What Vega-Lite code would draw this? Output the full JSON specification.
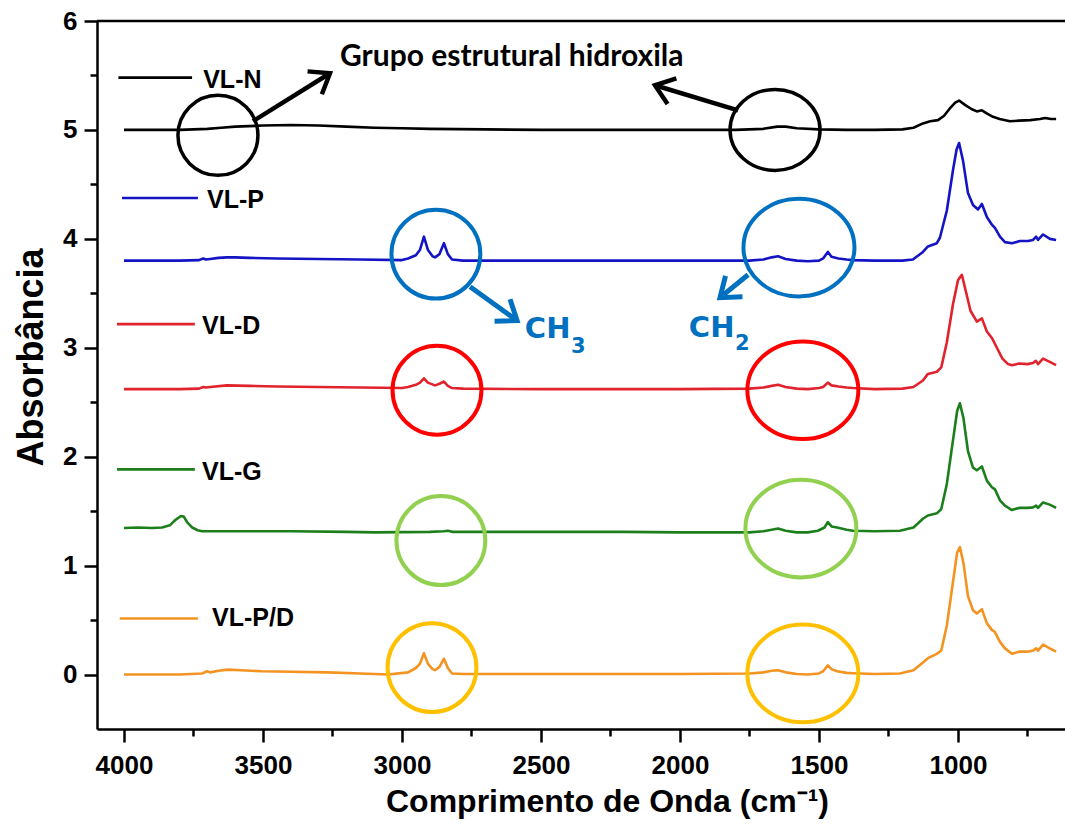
{
"$schema": "https://vega.github.io/schema/vega-lite/v6.json",
"width": 968, "height": 708,
"autosize": {"type": "none"},
"padding": {"left": 97, "top": 21, "right": 0, "bottom": 100},
"background": "white",
"config": {"view": {"stroke": null}, "axis": {"grid": false}},
"datasets": {
"spectra": [
{"s":"VL-N","wn":4000,"a":5.0},{"s":"VL-N","wn":3900,"a":5.0},{"s":"VL-N","wn":3800,"a":5.0},{"s":"VL-N","wn":3750,"a":5.005},{"s":"VL-N","wn":3700,"a":5.01},{"s":"VL-N","wn":3650,"a":5.02},{"s":"VL-N","wn":3600,"a":5.03},{"s":"VL-N","wn":3500,"a":5.04},{"s":"VL-N","wn":3400,"a":5.045},{"s":"VL-N","wn":3300,"a":5.04},{"s":"VL-N","wn":3200,"a":5.03},{"s":"VL-N","wn":3100,"a":5.02},{"s":"VL-N","wn":3000,"a":5.015},{"s":"VL-N","wn":2900,"a":5.01},{"s":"VL-N","wn":2700,"a":5.005},{"s":"VL-N","wn":2500,"a":5.0},{"s":"VL-N","wn":2200,"a":5.0},{"s":"VL-N","wn":2000,"a":5.0},{"s":"VL-N","wn":1800,"a":5.0},{"s":"VL-N","wn":1700,"a":5.01},{"s":"VL-N","wn":1650,"a":5.03},{"s":"VL-N","wn":1620,"a":5.03},{"s":"VL-N","wn":1580,"a":5.015},{"s":"VL-N","wn":1500,"a":5.005},{"s":"VL-N","wn":1400,"a":5.0},{"s":"VL-N","wn":1300,"a":5.0},
{"s":"VL-N","wn":1200,"a":5.005},{"s":"VL-N","wn":1160,"a":5.02},{"s":"VL-N","wn":1126,"a":5.06},{"s":"VL-N","wn":1100,"a":5.08},{"s":"VL-N","wn":1072,"a":5.09},{"s":"VL-N","wn":1050,"a":5.13},{"s":"VL-N","wn":1025,"a":5.21},{"s":"VL-N","wn":1010,"a":5.25},{"s":"VL-N","wn":996,"a":5.27},{"s":"VL-N","wn":975,"a":5.23},{"s":"VL-N","wn":950,"a":5.19},{"s":"VL-N","wn":932,"a":5.17},{"s":"VL-N","wn":914,"a":5.18},{"s":"VL-N","wn":895,"a":5.15},{"s":"VL-N","wn":874,"a":5.12},{"s":"VL-N","wn":850,"a":5.1},{"s":"VL-N","wn":813,"a":5.08},{"s":"VL-N","wn":780,"a":5.085},{"s":"VL-N","wn":740,"a":5.09},{"s":"VL-N","wn":705,"a":5.1},{"s":"VL-N","wn":687,"a":5.11},{"s":"VL-N","wn":665,"a":5.1},{"s":"VL-N","wn":647,"a":5.1},

{"s":"VL-P","wn":4000,"a":3.8},{"s":"VL-P","wn":3900,"a":3.8},{"s":"VL-P","wn":3800,"a":3.8},{"s":"VL-P","wn":3730,"a":3.805},{"s":"VL-P","wn":3715,"a":3.82},{"s":"VL-P","wn":3705,"a":3.81},{"s":"VL-P","wn":3690,"a":3.815},{"s":"VL-P","wn":3660,"a":3.825},{"s":"VL-P","wn":3630,"a":3.83},{"s":"VL-P","wn":3600,"a":3.83},{"s":"VL-P","wn":3550,"a":3.825},{"s":"VL-P","wn":3450,"a":3.82},{"s":"VL-P","wn":3300,"a":3.815},{"s":"VL-P","wn":3150,"a":3.81},{"s":"VL-P","wn":3000,"a":3.805},{"s":"VL-P","wn":2978,"a":3.82},{"s":"VL-P","wn":2950,"a":3.85},{"s":"VL-P","wn":2935,"a":3.9},{"s":"VL-P","wn":2921,"a":4.02},{"s":"VL-P","wn":2907,"a":3.9},{"s":"VL-P","wn":2890,"a":3.84},{"s":"VL-P","wn":2881,"a":3.83},{"s":"VL-P","wn":2865,"a":3.86},{"s":"VL-P","wn":2849,"a":3.96},{"s":"VL-P","wn":2835,"a":3.86},{"s":"VL-P","wn":2820,"a":3.81},{"s":"VL-P","wn":2780,"a":3.8},{"s":"VL-P","wn":2500,"a":3.8},{"s":"VL-P","wn":2200,"a":3.8},{"s":"VL-P","wn":1900,"a":3.8},{"s":"VL-P","wn":1750,"a":3.8},{"s":"VL-P","wn":1700,"a":3.81},{"s":"VL-P","wn":1670,"a":3.83},{"s":"VL-P","wn":1647,"a":3.84},{"s":"VL-P","wn":1620,"a":3.815},{"s":"VL-P","wn":1580,"a":3.8},{"s":"VL-P","wn":1540,"a":3.795},{"s":"VL-P","wn":1500,"a":3.8},{"s":"VL-P","wn":1485,"a":3.82},{"s":"VL-P","wn":1468,"a":3.88},{"s":"VL-P","wn":1455,"a":3.835},{"s":"VL-P","wn":1430,"a":3.82},{"s":"VL-P","wn":1400,"a":3.81},{"s":"VL-P","wn":1378,"a":3.805},{"s":"VL-P","wn":1300,"a":3.8},
{"s":"VL-P","wn":1200,"a":3.8},{"s":"VL-P","wn":1162,"a":3.81},{"s":"VL-P","wn":1126,"a":3.88},{"s":"VL-P","wn":1108,"a":3.93},{"s":"VL-P","wn":1076,"a":3.96},{"s":"VL-P","wn":1065,"a":4.01},{"s":"VL-P","wn":1040,"a":4.26},{"s":"VL-P","wn":1018,"a":4.63},{"s":"VL-P","wn":1005,"a":4.82},{"s":"VL-P","wn":996,"a":4.88},{"s":"VL-P","wn":982,"a":4.72},{"s":"VL-P","wn":964,"a":4.42},{"s":"VL-P","wn":946,"a":4.31},{"s":"VL-P","wn":928,"a":4.27},{"s":"VL-P","wn":914,"a":4.32},{"s":"VL-P","wn":896,"a":4.2},{"s":"VL-P","wn":878,"a":4.13},{"s":"VL-P","wn":867,"a":4.1},{"s":"VL-P","wn":849,"a":4.02},{"s":"VL-P","wn":831,"a":3.97},{"s":"VL-P","wn":806,"a":3.96},{"s":"VL-P","wn":777,"a":3.98},{"s":"VL-P","wn":748,"a":3.98},{"s":"VL-P","wn":730,"a":3.99},{"s":"VL-P","wn":719,"a":4.02},{"s":"VL-P","wn":712,"a":3.99},{"s":"VL-P","wn":694,"a":4.04},{"s":"VL-P","wn":669,"a":4.0},{"s":"VL-P","wn":647,"a":3.99},

{"s":"VL-D","wn":4000,"a":2.62},{"s":"VL-D","wn":3800,"a":2.62},{"s":"VL-D","wn":3730,"a":2.625},{"s":"VL-D","wn":3715,"a":2.64},{"s":"VL-D","wn":3705,"a":2.635},{"s":"VL-D","wn":3690,"a":2.64},{"s":"VL-D","wn":3630,"a":2.655},{"s":"VL-D","wn":3550,"a":2.65},{"s":"VL-D","wn":3450,"a":2.645},{"s":"VL-D","wn":3300,"a":2.64},{"s":"VL-D","wn":3150,"a":2.635},{"s":"VL-D","wn":3000,"a":2.63},{"s":"VL-D","wn":2978,"a":2.64},{"s":"VL-D","wn":2950,"a":2.66},{"s":"VL-D","wn":2935,"a":2.68},{"s":"VL-D","wn":2921,"a":2.72},{"s":"VL-D","wn":2907,"a":2.68},{"s":"VL-D","wn":2881,"a":2.655},{"s":"VL-D","wn":2865,"a":2.67},{"s":"VL-D","wn":2849,"a":2.69},{"s":"VL-D","wn":2835,"a":2.65},{"s":"VL-D","wn":2820,"a":2.63},{"s":"VL-D","wn":2780,"a":2.625},{"s":"VL-D","wn":2500,"a":2.62},{"s":"VL-D","wn":2000,"a":2.62},{"s":"VL-D","wn":1750,"a":2.625},{"s":"VL-D","wn":1700,"a":2.635},{"s":"VL-D","wn":1670,"a":2.65},{"s":"VL-D","wn":1647,"a":2.66},{"s":"VL-D","wn":1620,"a":2.64},{"s":"VL-D","wn":1580,"a":2.625},{"s":"VL-D","wn":1540,"a":2.62},{"s":"VL-D","wn":1500,"a":2.63},{"s":"VL-D","wn":1485,"a":2.64},{"s":"VL-D","wn":1468,"a":2.68},{"s":"VL-D","wn":1455,"a":2.655},{"s":"VL-D","wn":1430,"a":2.645},{"s":"VL-D","wn":1400,"a":2.635},{"s":"VL-D","wn":1378,"a":2.63},{"s":"VL-D","wn":1300,"a":2.62},
{"s":"VL-D","wn":1200,"a":2.625},{"s":"VL-D","wn":1160,"a":2.64},{"s":"VL-D","wn":1126,"a":2.7},{"s":"VL-D","wn":1108,"a":2.76},{"s":"VL-D","wn":1076,"a":2.78},{"s":"VL-D","wn":1060,"a":2.82},{"s":"VL-D","wn":1040,"a":3.05},{"s":"VL-D","wn":1018,"a":3.4},{"s":"VL-D","wn":1000,"a":3.62},{"s":"VL-D","wn":986,"a":3.67},{"s":"VL-D","wn":970,"a":3.5},{"s":"VL-D","wn":955,"a":3.34},{"s":"VL-D","wn":932,"a":3.24},{"s":"VL-D","wn":914,"a":3.27},{"s":"VL-D","wn":896,"a":3.15},{"s":"VL-D","wn":878,"a":3.09},{"s":"VL-D","wn":860,"a":3.0},{"s":"VL-D","wn":840,"a":2.9},{"s":"VL-D","wn":820,"a":2.85},{"s":"VL-D","wn":806,"a":2.84},{"s":"VL-D","wn":780,"a":2.855},{"s":"VL-D","wn":750,"a":2.85},{"s":"VL-D","wn":730,"a":2.86},{"s":"VL-D","wn":720,"a":2.88},{"s":"VL-D","wn":712,"a":2.85},{"s":"VL-D","wn":694,"a":2.9},{"s":"VL-D","wn":670,"a":2.87},{"s":"VL-D","wn":647,"a":2.84},

{"s":"VL-G","wn":4000,"a":1.345},{"s":"VL-G","wn":3950,"a":1.35},{"s":"VL-G","wn":3900,"a":1.345},{"s":"VL-G","wn":3863,"a":1.35},{"s":"VL-G","wn":3835,"a":1.37},{"s":"VL-G","wn":3817,"a":1.415},{"s":"VL-G","wn":3795,"a":1.455},{"s":"VL-G","wn":3785,"a":1.45},{"s":"VL-G","wn":3773,"a":1.4},{"s":"VL-G","wn":3755,"a":1.35},{"s":"VL-G","wn":3735,"a":1.325},{"s":"VL-G","wn":3719,"a":1.315},{"s":"VL-G","wn":3600,"a":1.315},{"s":"VL-G","wn":3400,"a":1.315},{"s":"VL-G","wn":3200,"a":1.31},{"s":"VL-G","wn":3097,"a":1.305},{"s":"VL-G","wn":2900,"a":1.31},{"s":"VL-G","wn":2850,"a":1.315},{"s":"VL-G","wn":2835,"a":1.32},{"s":"VL-G","wn":2820,"a":1.31},{"s":"VL-G","wn":2500,"a":1.31},{"s":"VL-G","wn":2200,"a":1.31},{"s":"VL-G","wn":2000,"a":1.305},{"s":"VL-G","wn":1750,"a":1.305},{"s":"VL-G","wn":1700,"a":1.315},{"s":"VL-G","wn":1670,"a":1.33},{"s":"VL-G","wn":1647,"a":1.34},{"s":"VL-G","wn":1620,"a":1.32},{"s":"VL-G","wn":1580,"a":1.305},{"s":"VL-G","wn":1540,"a":1.305},{"s":"VL-G","wn":1504,"a":1.32},{"s":"VL-G","wn":1480,"a":1.35},{"s":"VL-G","wn":1468,"a":1.4},{"s":"VL-G","wn":1455,"a":1.36},{"s":"VL-G","wn":1435,"a":1.35},{"s":"VL-G","wn":1400,"a":1.33},{"s":"VL-G","wn":1378,"a":1.32},{"s":"VL-G","wn":1300,"a":1.315},
{"s":"VL-G","wn":1209,"a":1.32},{"s":"VL-G","wn":1160,"a":1.35},{"s":"VL-G","wn":1126,"a":1.43},{"s":"VL-G","wn":1108,"a":1.46},{"s":"VL-G","wn":1076,"a":1.48},{"s":"VL-G","wn":1060,"a":1.52},{"s":"VL-G","wn":1040,"a":1.75},{"s":"VL-G","wn":1018,"a":2.15},{"s":"VL-G","wn":1003,"a":2.42},{"s":"VL-G","wn":993,"a":2.49},{"s":"VL-G","wn":980,"a":2.35},{"s":"VL-G","wn":964,"a":2.05},{"s":"VL-G","wn":946,"a":1.9},{"s":"VL-G","wn":932,"a":1.875},{"s":"VL-G","wn":914,"a":1.91},{"s":"VL-G","wn":896,"a":1.78},{"s":"VL-G","wn":878,"a":1.72},{"s":"VL-G","wn":867,"a":1.7},{"s":"VL-G","wn":849,"a":1.6},{"s":"VL-G","wn":831,"a":1.55},{"s":"VL-G","wn":806,"a":1.51},{"s":"VL-G","wn":780,"a":1.53},{"s":"VL-G","wn":750,"a":1.53},{"s":"VL-G","wn":730,"a":1.535},{"s":"VL-G","wn":719,"a":1.55},{"s":"VL-G","wn":712,"a":1.53},{"s":"VL-G","wn":694,"a":1.58},{"s":"VL-G","wn":670,"a":1.56},{"s":"VL-G","wn":647,"a":1.53},

{"s":"VL-P/D","wn":4000,"a":0.0},{"s":"VL-P/D","wn":3800,"a":0.0},{"s":"VL-P/D","wn":3719,"a":0.01},{"s":"VL-P/D","wn":3701,"a":0.03},{"s":"VL-P/D","wn":3690,"a":0.02},{"s":"VL-P/D","wn":3660,"a":0.035},{"s":"VL-P/D","wn":3626,"a":0.045},{"s":"VL-P/D","wn":3580,"a":0.04},{"s":"VL-P/D","wn":3504,"a":0.03},{"s":"VL-P/D","wn":3400,"a":0.025},{"s":"VL-P/D","wn":3266,"a":0.02},{"s":"VL-P/D","wn":3150,"a":0.01},{"s":"VL-P/D","wn":3050,"a":0.0},{"s":"VL-P/D","wn":2978,"a":0.02},{"s":"VL-P/D","wn":2950,"a":0.06},{"s":"VL-P/D","wn":2935,"a":0.1},{"s":"VL-P/D","wn":2921,"a":0.195},{"s":"VL-P/D","wn":2907,"a":0.1},{"s":"VL-P/D","wn":2890,"a":0.05},{"s":"VL-P/D","wn":2881,"a":0.04},{"s":"VL-P/D","wn":2865,"a":0.07},{"s":"VL-P/D","wn":2849,"a":0.145},{"s":"VL-P/D","wn":2835,"a":0.06},{"s":"VL-P/D","wn":2820,"a":0.01},{"s":"VL-P/D","wn":2780,"a":0.005},{"s":"VL-P/D","wn":2500,"a":0.005},{"s":"VL-P/D","wn":2000,"a":0.005},{"s":"VL-P/D","wn":1750,"a":0.01},{"s":"VL-P/D","wn":1700,"a":0.02},{"s":"VL-P/D","wn":1670,"a":0.035},{"s":"VL-P/D","wn":1647,"a":0.04},{"s":"VL-P/D","wn":1620,"a":0.02},{"s":"VL-P/D","wn":1580,"a":0.005},{"s":"VL-P/D","wn":1540,"a":0.0},{"s":"VL-P/D","wn":1500,"a":0.01},{"s":"VL-P/D","wn":1485,"a":0.03},{"s":"VL-P/D","wn":1468,"a":0.085},{"s":"VL-P/D","wn":1455,"a":0.05},{"s":"VL-P/D","wn":1435,"a":0.03},{"s":"VL-P/D","wn":1400,"a":0.015},{"s":"VL-P/D","wn":1378,"a":0.012},{"s":"VL-P/D","wn":1300,"a":0.005},
{"s":"VL-P/D","wn":1209,"a":0.01},{"s":"VL-P/D","wn":1160,"a":0.04},{"s":"VL-P/D","wn":1126,"a":0.11},{"s":"VL-P/D","wn":1108,"a":0.15},{"s":"VL-P/D","wn":1076,"a":0.19},{"s":"VL-P/D","wn":1060,"a":0.22},{"s":"VL-P/D","wn":1040,"a":0.45},{"s":"VL-P/D","wn":1018,"a":0.85},{"s":"VL-P/D","wn":1003,"a":1.12},{"s":"VL-P/D","wn":993,"a":1.17},{"s":"VL-P/D","wn":980,"a":1.02},{"s":"VL-P/D","wn":964,"a":0.72},{"s":"VL-P/D","wn":946,"a":0.59},{"s":"VL-P/D","wn":932,"a":0.56},{"s":"VL-P/D","wn":914,"a":0.6},{"s":"VL-P/D","wn":896,"a":0.47},{"s":"VL-P/D","wn":878,"a":0.41},{"s":"VL-P/D","wn":867,"a":0.39},{"s":"VL-P/D","wn":849,"a":0.3},{"s":"VL-P/D","wn":831,"a":0.24},{"s":"VL-P/D","wn":806,"a":0.19},{"s":"VL-P/D","wn":780,"a":0.21},{"s":"VL-P/D","wn":750,"a":0.21},{"s":"VL-P/D","wn":730,"a":0.22},{"s":"VL-P/D","wn":719,"a":0.24},{"s":"VL-P/D","wn":712,"a":0.22},{"s":"VL-P/D","wn":694,"a":0.275},{"s":"VL-P/D","wn":670,"a":0.24},{"s":"VL-P/D","wn":647,"a":0.21}
],
"frame": [{"wn":4097,"wn2":615,"a":6}],
"legendLines": [
{"s":"VL-N","wn":4020,"wn2":3755,"a":5.48},
{"s":"VL-P","wn":4007,"wn2":3734,"a":4.375},
{"s":"VL-D","wn":4025,"wn2":3745,"a":3.217},
{"s":"VL-G","wn":4025,"wn2":3745,"a":1.884},
{"s":"VL-P/D","wn":4015,"wn2":3734,"a":0.515}
],
"legendLabels": [
{"t":"VL-N","wn":3715,"a":5.46},
{"t":"VL-P","wn":3701,"a":4.357},
{"t":"VL-D","wn":3719,"a":3.2},
{"t":"VL-G","wn":3719,"a":1.86},
{"t":"VL-P/D","wn":3683,"a":0.52}
],
"ringsRound": [
{"s":"VL-P","wn":2878,"a":3.86},
{"s":"VL-D","wn":2874,"a":2.61},
{"s":"VL-G","wn":2860,"a":1.23},
{"s":"VL-P/D","wn":2892,"a":0.064}
],
"ringsOval": [
{"s":"VL-P","wn":1572,"a":3.92},
{"s":"VL-D","wn":1558,"a":2.61},
{"s":"VL-G","wn":1565,"a":1.34},
{"s":"VL-P/D","wn":1558,"a":0.01}
],
"ringBlackRound": [{"wn":3662,"a":4.95}],
"ringBlackOval": [{"wn":1658,"a":5.0}],
"arrowsBlack": [{"wn":3536,"a":5.08,"wn2":3259,"a2":5.52},{"wn":1791,"a":5.18,"wn2":2090,"a2":5.41}],
"arrowsBlue": [{"wn":2755,"a":3.56,"wn2":2586,"a2":3.25},{"wn":1755,"a":3.67,"wn2":1856,"a2":3.46}],
"head1": [{"wn":3259,"a":5.52}],
"head2": [{"wn":2090,"a":5.41}],
"head3": [{"wn":2586,"a":3.25}],
"head4": [{"wn":1856,"a":3.46}],
"note": [{"t":"Grupo estrutural hidroxila","wn":3223,"a":5.67}],
"chMain": [{"t":"CH","wn":2558,"a":3.09},{"t":"CH","wn":1968,"a":3.1}],
"chSub": [{"t":"3","wn":2392,"a":2.95},{"t":"2","wn":1802,"a":2.98}]
},
"encoding": {
"x": {"field":"wn","type":"quantitative",
 "scale":{"domain":[615,4097],"reverse":true,"nice":false,"zero":false},
 "axis":{"values":[4000,3750,3500,3250,3000,2750,2500,2250,2000,1750,1500,1250,1000,750],
  "labelExpr":"datum.value % 500 === 0 ? format(datum.value, 'd') : ''",
  "tickSize":{"condition":{"test":"datum.value % 500 === 0","value":13},"value":7},
  "tickWidth":2.5,"tickColor":"black","domainColor":"black","domainWidth":2.5,
  "labelFont":"Liberation Sans","labelFontWeight":"bold","labelFontSize":26,"labelColor":"black","labelPadding":10,
  "labelFlush":false,"labelOverlap":false,
  "title":"Comprimento de Onda (cm⁻¹)","titleFont":"Liberation Sans","titleFontWeight":"bold","titleFontSize":32,"titleColor":"black","titlePadding":8,"titleX":510}},
"y": {"field":"a","type":"quantitative",
 "scale":{"domain":[-0.5,6],"nice":false,"zero":false},
 "axis":{"values":[0,0.5,1,1.5,2,2.5,3,3.5,4,4.5,5,5.5,6],
  "labelExpr":"datum.value % 1 === 0 ? format(datum.value, 'd') : ''",
  "tickSize":{"condition":{"test":"datum.value % 1 === 0","value":13},"value":7},
  "tickWidth":2.5,"tickColor":"black","domainColor":"black","domainWidth":2.5,
  "labelFont":"Liberation Sans","labelFontWeight":"bold","labelFontSize":26,"labelColor":"black","labelPadding":7,
  "labelFlush":false,"labelOverlap":false,
  "title":"Absorbância","titleFont":"Liberation Sans","titleFontWeight":"bold","titleFontSize":36,"titleColor":"black","titlePadding":12,"titleY":336}}
},
"layer": [
{"data":{"name":"frame"},"mark":{"type":"rule","stroke":"black","strokeWidth":2.5},"encoding":{"x2":{"field":"wn2"}}},
{"data":{"name":"spectra"},"mark":{"type":"line","strokeWidth":2.6,"strokeJoin":"round"},
 "encoding":{"color":{"field":"s","type":"nominal","scale":{"domain":["VL-N","VL-P","VL-D","VL-G","VL-P/D"],"range":["#000000","#1414c4","#e0232d","#1c7f1c","#f39322"]},"legend":null}}},
{"data":{"name":"legendLines"},"mark":{"type":"rule","strokeWidth":2.6},
 "encoding":{"x2":{"field":"wn2"},"color":{"field":"s","type":"nominal","legend":null}}},
{"data":{"name":"legendLabels"},"mark":{"type":"text","align":"left","baseline":"middle","font":"Liberation Sans","fontWeight":"bold","fontSize":25,"color":"black"},
 "encoding":{"text":{"field":"t"}}},
{"data":{"name":"ringsRound"},"mark":{"type":"point","shape":"circle","filled":false,"size":7900,"strokeWidth":4,"opacity":1},
 "encoding":{"stroke":{"field":"s","type":"nominal","scale":{"domain":["VL-P","VL-D","VL-G","VL-P/D"],"range":["#0070c0","#ff0000","#92d050","#ffc000"]},"legend":null}}},
{"data":{"name":"ringsOval"},"mark":{"type":"point","shape":"M-1,0A1,0.88,0,1,1,1,0A1,0.88,0,1,1,-1,0Z","filled":false,"size":12321,"strokeWidth":4,"opacity":1},
 "encoding":{"stroke":{"field":"s","type":"nominal","legend":null}}},
{"data":{"name":"ringBlackRound"},"mark":{"type":"point","shape":"circle","filled":false,"size":6400,"strokeWidth":3.5,"opacity":1,"stroke":"black"}},
{"data":{"name":"ringBlackOval"},"mark":{"type":"point","shape":"M-1,0A1,0.9,0,1,1,1,0A1,0.9,0,1,1,-1,0Z","filled":false,"size":8100,"strokeWidth":3.5,"opacity":1,"stroke":"black"}},
{"data":{"name":"arrowsBlack"},"mark":{"type":"rule","stroke":"black","strokeWidth":4.5},"encoding":{"x2":{"field":"wn2"},"y2":{"field":"a2"}}},
{"data":{"name":"arrowsBlue"},"mark":{"type":"rule","stroke":"#0070c0","strokeWidth":5},"encoding":{"x2":{"field":"wn2"},"y2":{"field":"a2"}}},
{"data":{"name":"head1"},"mark":{"type":"point","shape":"M-1,-0.75L0,0L-1,0.75","filled":false,"size":1296,"strokeWidth":4.5,"opacity":1,"stroke":"black","angle":328}},
{"data":{"name":"head2"},"mark":{"type":"point","shape":"M-1,-0.75L0,0L-1,0.75","filled":false,"size":1296,"strokeWidth":4.5,"opacity":1,"stroke":"black","angle":199}},
{"data":{"name":"head3"},"mark":{"type":"point","shape":"M-1,-0.75L0,0L-1,0.75","filled":false,"size":1296,"strokeWidth":5,"opacity":1,"stroke":"#0070c0","angle":35}},
{"data":{"name":"head4"},"mark":{"type":"point","shape":"M-1,-0.75L0,0L-1,0.75","filled":false,"size":1296,"strokeWidth":5,"opacity":1,"stroke":"#0070c0","angle":141}},
{"data":{"name":"note"},"mark":{"type":"text","align":"left","baseline":"middle","font":"Lato","fontWeight":"bold","fontSize":30,"color":"black"},"encoding":{"text":{"field":"t"}}},
{"data":{"name":"chMain"},"mark":{"type":"text","align":"left","baseline":"alphabetic","font":"DejaVu Sans","fontWeight":"bold","fontSize":29,"color":"#0070c0"},"encoding":{"text":{"field":"t"}}},
{"data":{"name":"chSub"},"mark":{"type":"text","align":"left","baseline":"alphabetic","font":"DejaVu Sans","fontWeight":"bold","fontSize":21,"color":"#0070c0"},"encoding":{"text":{"field":"t"}}}
]
}
